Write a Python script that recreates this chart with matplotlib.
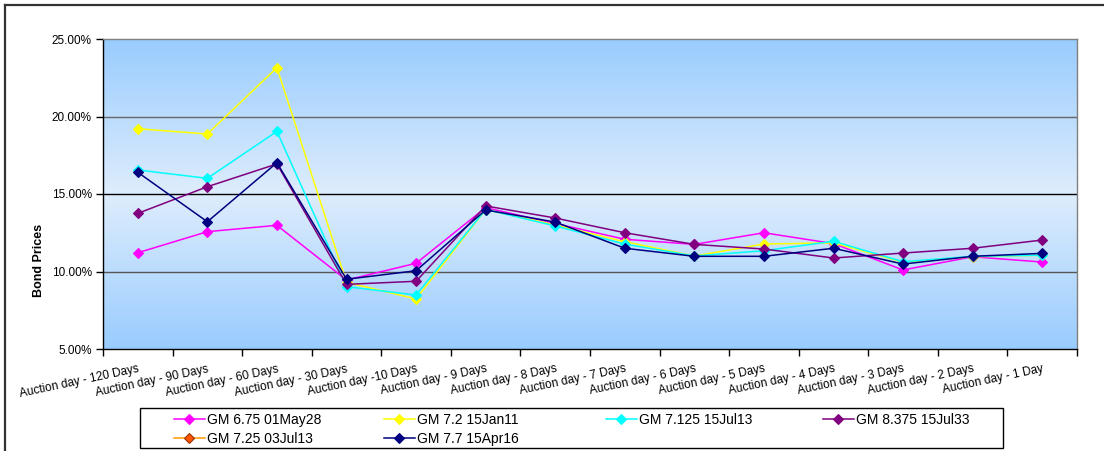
import numpy as np
import matplotlib
matplotlib.use("Agg")
import matplotlib.pyplot as plt
from matplotlib.lines import Line2D
from matplotlib.ticker import FixedLocator, FuncFormatter, NullFormatter

plt.rcParams['font.family'] = ['Liberation Sans', 'DejaVu Sans']

categories = ["Auction day - 120 Days", "Auction day - 90 Days", "Auction day - 60 Days",
              "Auction day - 30 Days", "Auction day -10 Days", "Auction day - 9 Days",
              "Auction day - 8 Days", "Auction day - 7 Days", "Auction day - 6 Days",
              "Auction day - 5 Days", "Auction day - 4 Days", "Auction day - 3 Days",
              "Auction day - 2 Days", "Auction day - 1 Day"]

gm_675_01may28 = [11.21, 12.57, 12.98, 9.45, 10.53, 14.12, 13.10, 12.08, 11.75, 12.50, 11.80, 10.10, 10.95, 10.61]
gm_72_15jan11 = [19.21, 18.87, 23.15, 9.30, 8.23, 14.00, 13.00, 11.92, 11.00, 11.77, 11.85, 10.60, 10.95, 11.05]
gm_7125_15jul13 = [16.55, 16.01, 19.04, 9.02, 8.48, 14.00, 12.94, 11.77, 11.00, 11.34, 11.95, 10.63, 10.98, 11.05]
gm_8375_15jul33 = [13.75, 15.47, 16.94, 9.17, 9.37, 14.23, 13.45, 12.50, 11.75, 11.45, 10.87, 11.19, 11.50, 12.03]
gm_725_03jul13 = [np.nan] * 14
gm_77_15apr16 = [16.40, 13.21, 17.02, 9.50, 10.05, 13.97, 13.19, 11.50, 10.98, 10.98, 11.50, 10.48, 10.98, 11.17]

series_names = ["GM 6.75 01May28", "GM 7.2 15Jan11", "GM 7.125 15Jul13",
                "GM 8.375 15Jul33", "GM 7.25 03Jul13", "GM 7.7 15Apr16"]
series_values = [gm_675_01may28, gm_72_15jan11, gm_7125_15jul13,
                 gm_8375_15jul33, gm_725_03jul13, gm_77_15apr16]
line_colors = ["#FF00FF", "#FFFF00", "#00FFFF", "#800080", "#FF9900", "#000080"]
face_colors = ["#FF00FF", "#FFFF00", "#00FFFF", "#800080", "#FF5500", "#000080"]
edge_colors = ["#FF00FF", "#FFFF00", "#00FFFF", "#800080", "#993300", "#000080"]

y_ticks = [5, 10, 15, 20, 25]

W, H = 1104, 451
fig = plt.figure(figsize=(W / 100, H / 100), dpi=100)
fig.patch.set_facecolor("white")

ax_l, ax_r, ax_t, ax_b = 103, 1077, 39, 349
ax = fig.add_axes([ax_l / W, 1 - ax_b / H, (ax_r - ax_l) / W, (ax_b - ax_t) / H])

# gradient background (edges -> center)
n = 256
t = np.abs(np.linspace(0, 1, n) - 0.5) * 2
edge = np.array([153, 204, 255]) / 255
center = np.array([222, 237, 252]) / 255
grad = center[None, :] * (1 - t[:, None]) + edge[None, :] * t[:, None]
grad = np.repeat(grad[:, None, :], 2, axis=1)
ax.imshow(grad, extent=[0, 1, 0, 1], transform=ax.transAxes, aspect="auto", zorder=0)

x = np.arange(len(categories))
for name, vals, lc, fc, ec in zip(series_names, series_values, line_colors, face_colors, edge_colors):
    ax.plot(x, vals, color=lc, lw=1.1, marker="D", markersize=5.5,
            markerfacecolor=fc, markeredgecolor=ec, markeredgewidth=0.8,
            label=name, zorder=3)

ax.set_xlim(-0.5, len(categories) - 0.5)
ax.set_ylim(5, 25)

for yv, c in [(10, "#555555"), (15, "#000000"), (20, "#666666")]:
    ax.axhline(yv, color=c, lw=1.0, zorder=1)

ax.yaxis.set_major_locator(FixedLocator(y_ticks))
ax.yaxis.set_major_formatter(FuncFormatter(lambda v, p: f"{v:.2f}%"))
ax.tick_params(axis="y", direction="out", length=5, width=1, pad=3, labelsize=8.5)

ax.xaxis.set_major_locator(FixedLocator(np.arange(len(categories) + 1) - 0.5))
ax.xaxis.set_major_formatter(NullFormatter())
ax.xaxis.set_minor_locator(FixedLocator(x))
ax.set_xticklabels(categories, minor=True, rotation=12, ha="right", va="top",
                   rotation_mode="anchor", fontsize=8.5)
ax.tick_params(axis="x", which="major", direction="out", length=5, width=1)
ax.tick_params(axis="x", which="minor", length=0, pad=10)

for s in ["left", "bottom"]:
    ax.spines[s].set_color("black")
    ax.spines[s].set_linewidth(1.0)
for s in ["top", "right"]:
    ax.spines[s].set_color("#808080")
    ax.spines[s].set_linewidth(1.0)

ax.set_ylabel("Bond Prices", fontsize=9, fontweight="bold")
ax.yaxis.set_label_coords((45 - ax_l) / (ax_r - ax_l), (ax_b - 260) / (ax_b - ax_t))

# legend: box + four columns
handles, labels = ax.get_legend_handles_labels()
box = plt.Rectangle((140 / W, 1 - 448 / H), (1003 - 140) / W, (448 - 408) / H,
                    transform=fig.transFigure, facecolor="white", edgecolor="black",
                    lw=1.0, zorder=5)
fig.add_artist(box)
columns = [([0, 4], 174), ([1, 5], 384), ([2], 606), ([3], 823)]
for idxs, xpx in columns:
    lg = fig.legend([handles[i] for i in idxs], [labels[i] for i in idxs],
                    loc="upper left", bbox_to_anchor=(xpx / W, 1 - 413 / H),
                    frameon=False, borderpad=0, borderaxespad=0, fontsize=10,
                    handlelength=2.2, handletextpad=0.15, labelspacing=0.35)
    lg.set_zorder(6)

# outer chart border (top and left visible)
fig.add_artist(Line2D([5 / W, 5 / W], [0, 1 - 5 / H], transform=fig.transFigure,
                      color="#333333", lw=1.6))
fig.add_artist(Line2D([5 / W, 1], [1 - 5 / H, 1 - 5 / H], transform=fig.transFigure,
                      color="#333333", lw=1.6))

fig.savefig("out.png", dpi=100)
